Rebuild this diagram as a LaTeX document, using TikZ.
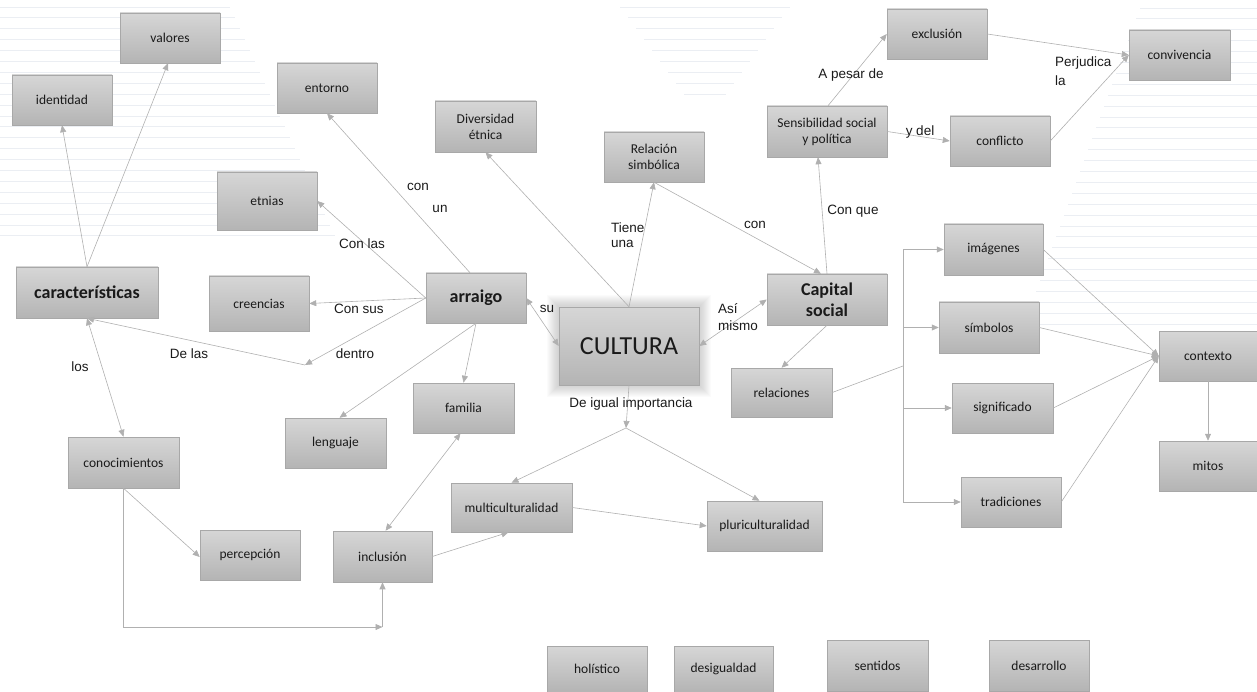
\documentclass[tikz,border=0pt]{standalone}
\usepackage{fontspec}
\setmainfont{Carlito}
\newfontfamily\labfont{Liberation Sans}
\usetikzlibrary{arrows.meta,calc}
\definecolor{edgec}{HTML}{B0B0B0}
\definecolor{boxtop}{HTML}{D6D6D6}
\definecolor{boxbot}{HTML}{B4B4B4}
\definecolor{boxline}{HTML}{A8A8A8}
\definecolor{stripe}{HTML}{EBEEF3}
\definecolor{txt}{HTML}{1A1A1A}
\tikzset{
  box/.style={draw=boxline, line width=0.5pt, top color=boxtop, bottom color=boxbot,
    font=\fontsize{13.5}{16}\selectfont, text=txt, align=center, inner sep=2pt,
    minimum width=100, minimum height=50},
  bigbox/.style={box, font=\bfseries\fontsize{18}{21}\selectfont},
  lab/.style={font=\labfont\fontsize{13.5}{15}\selectfont, inner sep=0pt, text=txt},
  edge/.style={draw=edgec, line width=0.6pt},
  arr/.style={edge, -{Triangle[length=7pt,width=6pt]}},
  darr/.style={edge, {Triangle[length=7pt,width=6pt]}-{Triangle[length=7pt,width=6pt]}},
  stripeline/.style={draw=stripe, line width=0.8pt}
}
\begin{document}
\begin{tikzpicture}[x=1pt,y=-1pt]
\useasboundingbox (0,0) rectangle (1257,692);
% background stripes
\foreach \i in {0,...,21} { \draw[stripeline] (0,{7+10.9*\i}) -- ({230+5*\i},{7+10.9*\i}); }
\foreach \i in {0,...,29} { \draw[stripeline] ({1140-4*\i},{8+10.9*\i}) -- (1257,{8+10.9*\i}); }
\foreach \i in {0,...,8} { \draw[stripeline] ({620+8*\i},{7+10.9*\i}) -- ({790-8*\i},{7+10.9*\i}); }
% CULTURA soft glow
\foreach \k in {1,...,12} {
  \fill[black,opacity=0.014] ({559-\k},{307-\k}) rectangle ({699+\k},{385+\k}); }

% nodes
\node[box] (valores) at (170,38) {valores};
\node[box] (identidad) at (62,100) {identidad};
\node[box] (entorno) at (327,88) {entorno};
\node[box, minimum height=58] (etnias) at (267,201) {etnias};
\node[bigbox, minimum width=142, minimum height=51] (caract) at (87,292.5) {características};
\node[box, minimum height=55] (creencias) at (259,303.5) {creencias};
\node[box, minimum width=101] (lenguaje) at (335.5,443) {lenguaje};
\node[box, minimum width=111, minimum height=51] (conoc) at (123.5,462.5) {conocimientos};
\node[box, minimum width=101, minimum height=51] (divers) at (485.5,126.5) {Diversidad\\étnica};
\node[box] (relsim) at (654,157) {Relación\\simbólica};
\node[bigbox] (arraigo) at (476,298) {arraigo};
\node[box, minimum width=140, minimum height=78, font=\fontsize{26}{30}\selectfont] (cultura) at (629,346) {CULTURA};
\node[box, minimum width=101] (familia) at (463.5,408) {familia};
\node[bigbox, minimum width=120, minimum height=51] (capital) at (827,299.5) {Capital\\social};
\node[box, minimum width=101, minimum height=49] (relaciones) at (781.5,392.5) {relaciones};
\node[box, minimum width=120, minimum height=51] (sensib) at (827,131.5) {Sensibilidad social\\y política};
\node[box] (exclusion) at (937,34) {exclusión};
\node[box, minimum width=101] (conviv) at (1179.5,55) {convivencia};
\node[box] (conflicto) at (1000,141) {conflicto};
\node[box, minimum width=99, minimum height=51] (imagenes) at (993.5,249.5) {imágenes};
\node[box, minimum height=51] (simbolos) at (989,327.5) {símbolos};
\node[box, minimum width=101] (signif) at (1002.5,408) {significado};
\node[box, minimum width=98] (contexto) at (1208,356) {contexto};
\node[box, minimum width=98] (mitos) at (1208,466) {mitos};
\node[box] (percep) at (250,555) {percepción};
\node[box, minimum width=99, minimum height=51] (inclusion) at (382.5,556.5) {inclusión};
\node[box, minimum width=121, minimum height=49] (multi) at (511.5,507.5) {multiculturalidad};
\node[box, minimum width=115] (pluri) at (764.5,526) {pluriculturalidad};
\node[box] (tradic) at (1011,502) {tradiciones};
\node[box, minimum height=46] (holis) at (597,669) {holístico};
\node[box, minimum width=99, minimum height=46] (desig) at (723.5,669) {desigualdad};
\node[box, minimum width=101, minimum height=51] (sentidos) at (877.5,665.5) {sentidos};
\node[box, minimum height=51] (desarr) at (1039,665.5) {desarrollo};

% junctions
\coordinate (j1) at (305,365);
\coordinate (j2) at (626,428);
\coordinate (j3) at (382.5,627);
\coordinate (rel) at (903,366);

% connectors
\draw[arr] (caract.north) -- (identidad.south);
\draw[arr] (caract.north) -- ([xshift=-2]valores.south);
\draw[darr] (caract.south) -- (conoc.north);
\draw[arr] (arraigo.west) -- (j1);
\draw[arr] (j1) -- (caract.south);
\draw[arr] (arraigo.west) -- (etnias.east);
\draw[arr] (arraigo.west) -- (creencias.east);
\draw[arr] ([xshift=-6]arraigo.north) -- (entorno.south);
\draw[arr] (arraigo.south) -- (familia.north);
\draw[arr] (arraigo.south) -- ([xshift=4]lenguaje.north);
\draw[darr] (arraigo.east) -- (cultura.west);
\draw[arr] (cultura.north) -- (divers.south);
\draw[arr] (cultura.north) -- (relsim.south);
\draw[arr] (relsim.south) -- ([xshift=-6]capital.north);
\draw[arr] (capital.north) -- ([xshift=-9]sensib.south);
\draw[darr] (cultura.east) -- (capital.west);
\draw[arr] (capital.south) -- (relaciones.north);
\draw[arr] (cultura.south) -- (j2);
\draw[arr] (j2) -- (multi.north);
\draw[arr] (j2) -- ([xshift=-5]pluri.north);
\draw[arr] (multi.east) -- (pluri.west);
\draw[arr] (inclusion.east) -- ([xshift=-3]multi.south);
\draw[darr] ([xshift=-3]familia.south) -- ([xshift=3]inclusion.north);
\draw[arr] (conoc.south) -- ([yshift=-2]percep.west);
\draw[arr] (conoc.south) |- (j3);
\draw[arr] (j3) -- (inclusion.south);
\draw[arr] ([xshift=1]sensib.north) -- (exclusion.west);
\draw[arr] (sensib.east) -- (conflicto.west);
\draw[arr] (exclusion.east) -- (conviv.west);
\draw[arr] (conflicto.east) -- (conviv.west);
\draw[edge] (relaciones.east) -- (rel);
\draw[arr] (rel) |- (imagenes.west);
\draw[arr] (rel) |- (simbolos.west);
\draw[arr] (rel) |- (signif.west);
\draw[arr] (rel) |- (tradic.west);
\draw[arr] (imagenes.east) -- (contexto.west);
\draw[arr] (simbolos.east) -- (contexto.west);
\draw[arr] (signif.east) -- (contexto.west);
\draw[arr] (tradic.east) -- (contexto.west);
\draw[arr] (contexto.south) -- (mitos.north);

% labels
\node[lab] (l1) at (418,187) {con};
\node[lab] (l2) at (440,209) {un};
\node[lab] (l3) at (362,244) {Con las};
\node[lab] (l4) at (359,309) {Con sus};
\node[lab] (l5) at (189,354) {De las};
\node[lab] (l6) at (355,354) {dentro};
\node[lab] (l7) at (80,367) {los};
\node[lab] (l8) at (547,309) {su};
\node[lab, anchor=west] (l9) at (611,228) {Tiene};
\node[lab, anchor=west] (l10) at (611,244) {una};
\node[lab] (l11) at (755,225) {con};
\node[lab] (l12) at (853,211) {Con que};
\node[lab] (l13) at (851,75) {A pesar de};
\node[lab] (l14) at (920,132) {y del};
\node[lab, anchor=west] (l15) at (718,309) {Así};
\node[lab, anchor=west] (l16) at (718,326) {mismo};
\node[lab] (l17) at (631,404) {De igual importancia};
\node[lab, anchor=west] (l18) at (1055,63) {Perjudica};
\node[lab, anchor=west] (l19) at (1055,81) {la};
\end{tikzpicture}
\end{document}
